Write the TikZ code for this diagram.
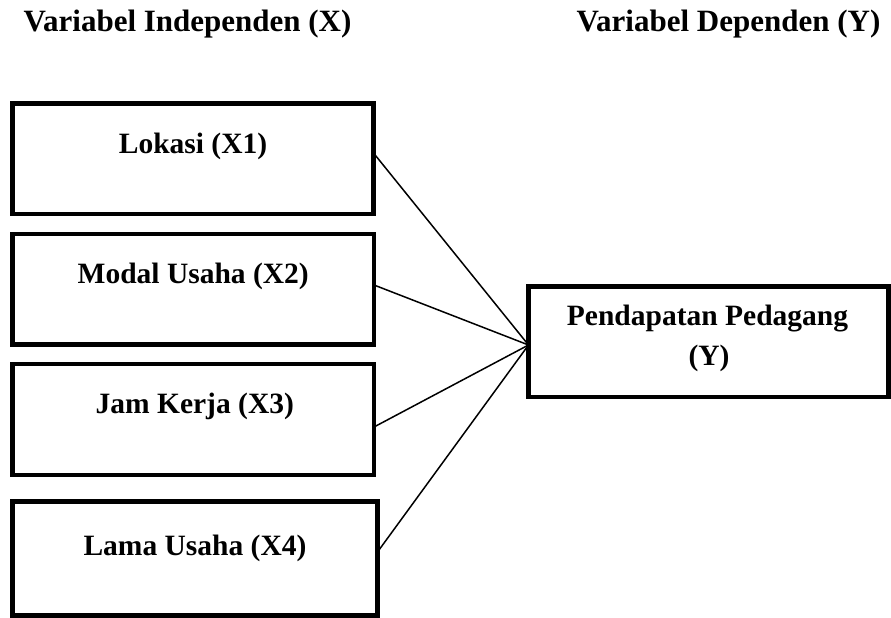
\documentclass[tikz,border=0pt]{standalone}
\usepackage{fontspec}
\setmainfont{Liberation Serif}
\usetikzlibrary{calc}
\tikzset{
  varbox/.style={draw=black, line width=4.5pt, rectangle, inner sep=0pt, outer sep=0pt},
  boxtext/.style={anchor=base, inner sep=0pt, font=\fontsize{29.5}{35}\selectfont\bfseries},
  headtext/.style={anchor=base, inner sep=0pt, font=\fontsize{31}{37}\selectfont\bfseries},
  link/.style={draw=black, line width=1.5pt},
}
\begin{document}
\begin{tikzpicture}[x=1pt, y=-1pt]
\useasboundingbox (0,0) rectangle (891,618);
\fill[white] (0,0) rectangle (891,618);

% headers
\node[headtext] (hx) at (187.5,32) {Variabel Independen (X)};
\node[headtext] (hy) at (728.5,32) {Variabel Dependen (Y)};

% boxes
\node[varbox, minimum width=361pt, minimum height=110.5pt] (b1) at (193,158.75) {};
\node[varbox, minimum width=361.5pt, minimum height=110.5pt] (b2) at (193.25,289.25) {};
\node[varbox, minimum width=361.5pt, minimum height=111pt] (b3) at (193.25,419.5) {};
\node[varbox, minimum width=365pt, minimum height=114pt] (b4) at (195,558.5) {};
\node[varbox, minimum width=360pt, minimum height=110.5pt] (by) at (708.5,341.75) {};

% texts
\node[boxtext] (t1) at ($(b1.north)+(0,49.5)$) {Lokasi (X1)};
\node[boxtext] (t2) at ($(b2.north)+(0,49)$) {Modal Usaha (X2)};
\node[boxtext] (t3) at ($(b3.north)+(1.5,49)$) {Jam Kerja (X3)};
\node[boxtext] (t4) at ($(b4.north)+(0,53.5)$) {Lama Usaha (X4)};
\node[boxtext] (ty1) at ($(by.north)+(-1,38.5)$) {Pendapatan Pedagang};
\node[boxtext] (ty2) at ($(by.north)+(0.5,78.5)$) {(Y)};

% connectors
\coordinate (m) at ($(by.west)+(0,3.25)$);
\draw[link] ($(b1.east)+(0,-5.75)$) -- (m);
\draw[link] ($(b2.east)+(0,-4.25)$) -- (m);
\draw[link] ($(b3.east)+(0,7.5)$) -- (m);
\draw[link] ($(b4.east)+(0,-6.5)$) -- (m);
\end{tikzpicture}
\end{document}
